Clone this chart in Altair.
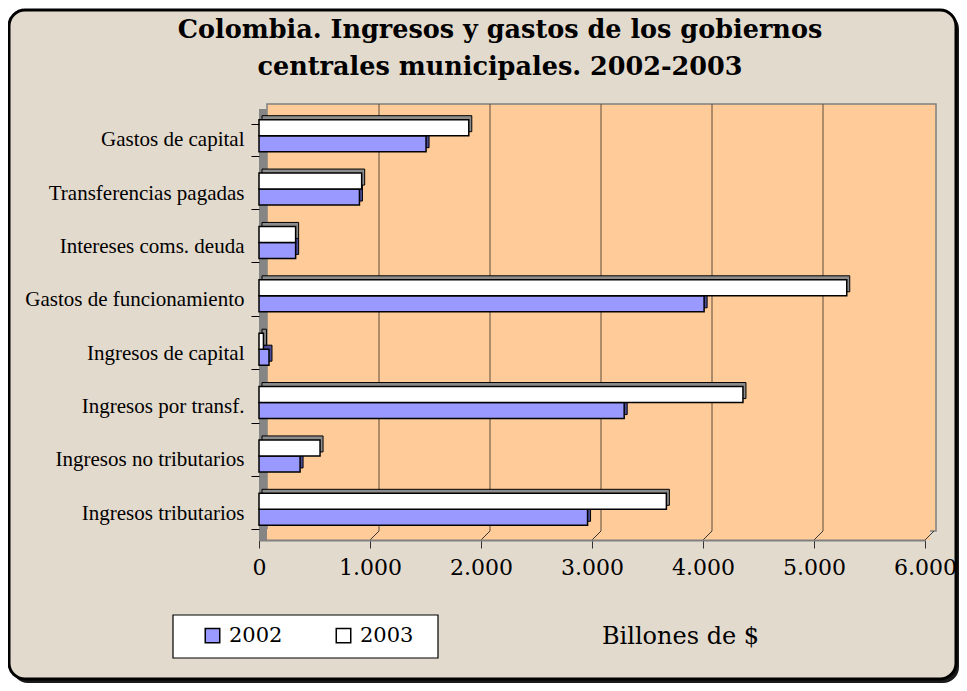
import altair as alt
import pandas as pd

categorias = ["Gastos de capital", "Transferencias pagadas", "Intereses coms. deuda",
              "Gastos de funcionamiento", "Ingresos de capital", "Ingresos por transf.",
              "Ingresos no tributarios", "Ingresos tributarios"]
valores_2002 = [1505, 905, 330, 4010, 90, 3290, 370, 2960]
valores_2003 = [1890, 925, 330, 5295, 40, 4360, 550, 3670]
anios = ["2002", "2003"]
ticks_x = [0, 1000, 2000, 3000, 4000, 5000, 6000]
titulo = ["Colombia. Ingresos y gastos de los gobiernos",
          "centrales municipales. 2002-2003"]

rows = []
for c, a, b in zip(categorias, valores_2002, valores_2003):
    rows.append({"Concepto": c, "Año": "2002", "Valor": a})
    rows.append({"Concepto": c, "Año": "2003", "Valor": b})
df = pd.DataFrame(rows)

W, H = 666, 427
PL, PT = 251, 105
TOTW, TOTH = 951, 675

xscale = alt.Scale(domain=[0, 6000], nice=False, zero=True)
yscale = alt.Scale(paddingInner=0.4, paddingOuter=0.2)

one = pd.DataFrame({"k": [0]})


def box(x, x2, y, y2, **kw):
    return alt.Chart(one).mark_rect(**kw).encode(
        x=alt.value(x), x2=alt.value(x2), y=alt.value(y), y2=alt.value(y2))


def label(txt, x, y, **kw):
    return alt.Chart(one).mark_text(**kw).encode(
        x=alt.value(x), y=alt.value(y), text=alt.value(txt))


border_shadow = box(-247, 700, -100, 570, fill="#1a1a1a", cornerRadius=16)
border = box(-250, 697, -103, 566, fill="#E3DACE", stroke="black",
             strokeWidth=3, cornerRadius=16)
wall = box(8, 677, -9, 418, fill="#FFCC99", stroke="#808080", strokeWidth=1.5)
floor = box(0, 671, 416, 427, fill="#FFCC99")
left_wall = box(0, 8, -4, 427, fill="#858585")
legend_box = box(-86, 179, 502, 545, fill="white", stroke="black", strokeWidth=1.2)

title1 = label(titulo[0], 241, -83, font="DejaVu Serif", fontSize=25.5,
               fontWeight="bold", color="black", align="center", baseline="middle")
title2 = label(titulo[1], 241, -46, font="DejaVu Serif", fontSize=25.5,
               fontWeight="bold", color="black", align="center", baseline="middle")

grid = alt.Chart(pd.DataFrame({"v": ticks_x[1:-1]})).mark_rule(
    color="#5C4B3B", strokeWidth=1, xOffset=9).encode(
    x=alt.X("v:Q", scale=xscale),
    y=alt.value(-9), y2=alt.value(418))

floor_ticks = alt.Chart(pd.DataFrame({"v": ticks_x[1:]})).mark_rule(
    color="#333333", strokeWidth=1, x2Offset=9).encode(
    x=alt.X("v:Q", scale=xscale), x2="v:Q",
    y=alt.value(427), y2=alt.value(418))

shadow = alt.Chart(df).mark_bar(
    xOffset=3, x2Offset=4, stroke="black", strokeWidth=1).encode(
    x=alt.X("Valor:Q", scale=xscale),
    y=alt.Y("Concepto:N", sort=categorias, scale=yscale),
    yOffset=alt.YOffset("Año:N", sort=["2003", "2002"],
                        scale=alt.Scale(range=[-8, 24], paddingInner=0, paddingOuter=0)),
    color=alt.Color("Año:N", scale=alt.Scale(domain=anios, range=["#4D4D99", "#8C8C8C"]),
                    legend=None),
)

x_axis = alt.Axis(
    values=ticks_x, title="Billones de $", titleFont="DejaVu Serif", titleFontSize=24,
    titleFontWeight="normal", titleX=421, titleY=96, titleAlign="center",
    titleBaseline="middle", titleColor="black",
    labelFont="DejaVu Serif", labelFontSize=22, labelColor="black", labelPadding=9,
    tickSize=8, tickColor="#333333", domainColor="#808080", domainWidth=2, grid=False,
    labelExpr="replace(format(datum.value, ','), ',', '.')",
    labelFlush=False, labelOverlap=False, zindex=2)

y_axis = alt.Axis(
    title=None, domain=False, tickBand="extent", tickSize=8, tickColor="black",
    labelPadding=7, labelFont="Liberation Serif", labelFontSize=21, labelColor="black",
    labelLimit=300, grid=False, zindex=2)

bars = alt.Chart(df).mark_bar(stroke="black", strokeWidth=1.5).encode(
    x=alt.X("Valor:Q", scale=xscale, axis=x_axis),
    y=alt.Y("Concepto:N", sort=categorias, scale=yscale, axis=y_axis),
    yOffset=alt.YOffset("Año:N", sort=["2003", "2002"],
                        scale=alt.Scale(range=[-4, 28], paddingInner=0, paddingOuter=0)),
    color=alt.Color("Año:N", scale=alt.Scale(domain=anios, range=["#9999FF", "#FFFFFF"]),
                    legend=alt.Legend(
                        title=None, orient="none", legendX=-57, legendY=512,
                        direction="horizontal", padding=0, symbolType="square",
                        symbolSize=210, symbolStrokeColor="black", symbolStrokeWidth=1.5,
                        labelFont="DejaVu Serif", labelFontSize=21, labelColor="black",
                        labelOffset=6, columnPadding=50, zindex=2)),
)

chart = alt.layer(
    border_shadow, border, wall, floor, left_wall, grid, floor_ticks, legend_box,
    title1, title2, shadow, bars
).resolve_scale(color="independent", yOffset="independent").properties(
    width=W, height=H,
    autosize=alt.AutoSizeParams(type="none"),
    padding={"left": PL, "top": PT, "right": TOTW - PL - W, "bottom": TOTH - PT - H},
    background="white",
).configure_view(stroke=None, fill=None)

chart.save("out.html", embed_options={"renderer": "svg", "actions": False})
